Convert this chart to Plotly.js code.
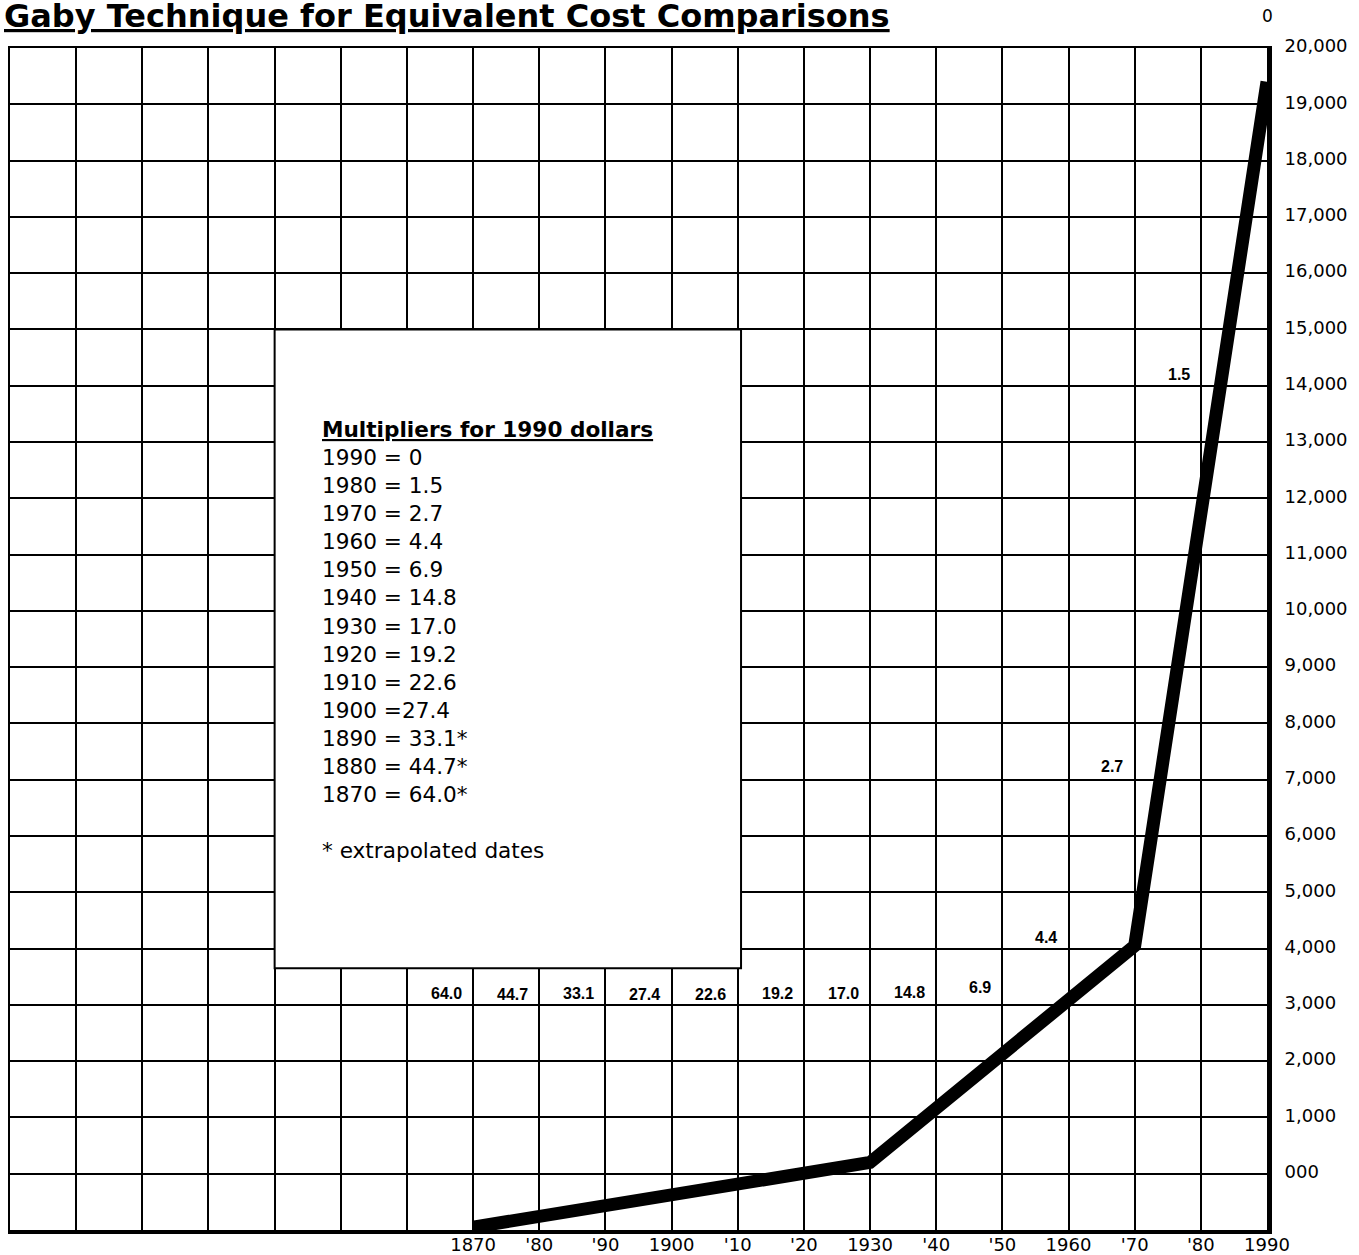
<!DOCTYPE html>
<html><head><meta charset="utf-8">
<script src="https://cdn.plot.ly/plotly-3.0.1.min.js"></script>
<style>html,body{margin:0;padding:0;background:#fff;overflow:hidden}#chart{width:1359px;height:1255px}</style>
</head><body><div id="chart"></div>
<script>
// ---- data ----
const years = [1870, 1930, 1970, 1990];
const values = [-950, 200, 4050, 19400];

const multYears = [1990, 1980, 1970, 1960, 1950, 1940, 1930, 1920, 1910, 1900, 1890, 1880, 1870];
const multValues = ["0", "1.5", "2.7", "4.4", "6.9", "14.8", "17.0", "19.2", "22.6", "27.4", "33.1", "44.7", "64.0"];
const extrapolated = [1890, 1880, 1870];

const xTickVals = [1870, 1880, 1890, 1900, 1910, 1920, 1930, 1940, 1950, 1960, 1970, 1980, 1990];
const xTickText = ["1870", "'80", "'90", "1900", "'10", "'20", "1930", "'40", "'50", "1960", "'70", "'80", "1990"];
const yTickVals = [0, 1000, 2000, 3000, 4000, 5000, 6000, 7000, 8000, 9000, 10000, 11000, 12000, 13000, 14000, 15000, 16000, 17000, 18000, 19000, 20000];
const yTickText = ["000", "1,000", "2,000", "3,000", "4,000", "5,000", "6,000", "7,000", "8,000", "9,000", "10,000", "11,000", "12,000", "13,000", "14,000", "15,000", "16,000", "17,000", "18,000", "19,000", "20,000"];

// ---- layout helpers (positions, not data) ----
const labelYears = [1870, 1880, 1890, 1900, 1910, 1920, 1930, 1940, 1950, 1960, 1970, 1980];
const labelY = [3200, 3180, 3210, 3190, 3190, 3210, 3210, 3220, 3300, 4200, 7230, 14200];
const box = {x0: 1840, x1: 1910.5, y0: 3650, y1: 15000};

const black = '#000';
const labelFont = {family: 'Liberation Sans, Arial, sans-serif', size: 16, color: black, weight: 'bold'};

const annotations = [];
labelYears.forEach((yr, i) => {
  const idx = multYears.indexOf(yr);
  annotations.push({
    x: yr - 1.4, y: labelY[i], xref: 'x', yref: 'y',
    xanchor: 'right', yanchor: 'middle', showarrow: false,
    text: '<b>' + multValues[idx] + '</b>', font: labelFont
  });
});

const boxLines = multYears.map((yr, i) =>
  yr + (yr === 1900 ? ' =' : ' = ') + multValues[i] + (extrapolated.includes(yr) ? '*' : ''));
const boxText = '<b><u>Multipliers for 1990 dollars</u></b><br>' + boxLines.join('<br>') + '<br><br>* extrapolated dates';
annotations.push({
  x: 1846.8, y: 13480, xref: 'x', yref: 'y', xanchor: 'left', yanchor: 'top',
  showarrow: false, align: 'left', text: boxText,
  font: {family: 'DejaVu Sans, sans-serif', size: 21.6, color: black}
});

annotations.push({
  x: -0.0065, y: 1.027, xref: 'paper', yref: 'paper', xanchor: 'left', yanchor: 'middle',
  showarrow: false, text: '<b><u>Gaby Technique for Equivalent Cost Comparisons</u></b>',
  font: {family: 'DejaVu Sans, sans-serif', size: 32, color: black}
});
annotations.push({
  x: 1.0, y: 1.027, xref: 'paper', yref: 'paper', xanchor: 'center', yanchor: 'middle',
  showarrow: false, text: '0',
  font: {family: 'DejaVu Sans, sans-serif', size: 17, color: black}
});

const traces = [
  {x: years, y: values, type: 'scatter', mode: 'lines',
   line: {color: black, width: 13}, hoverinfo: 'skip', cliponaxis: true},
  {x: [1800, 1990], y: [-1000, 20000], xaxis: 'x2', yaxis: 'y2', type: 'scatter', mode: 'markers',
   marker: {opacity: 0}, hoverinfo: 'skip', showlegend: false}
];

const layout = {
  width: 1359, height: 1255,
  margin: {l: 10, r: 92, t: 48, b: 25, pad: 0},
  paper_bgcolor: '#fff', plot_bgcolor: '#fff',
  showlegend: false,
  xaxis: {
    range: [1800, 1990], tickvals: xTickVals, ticktext: xTickText,
    showgrid: true, gridcolor: black, gridwidth: 2,
    minor: {tick0: 1800, dtick: 10, showgrid: true, gridcolor: black, gridwidth: 2, ticks: ''},
    showline: true, linecolor: black, linewidth: 4, ticks: '',
    zeroline: false, ticklabelstandoff: -5,
    tickfont: {family: 'DejaVu Sans, sans-serif', size: 18, color: black},
    fixedrange: true
  },
  yaxis: {
    range: [-1000, 20000], side: 'right', tickvals: yTickVals, ticktext: yTickText,
    showgrid: true, gridcolor: black, gridwidth: 2,
    minor: {tick0: -1000, dtick: 1000, showgrid: true, gridcolor: black, gridwidth: 2, ticks: ''},
    showline: true, linecolor: black, linewidth: 5, ticks: '',
    zeroline: false, ticklabelstandoff: 9, ticklabelshift: -2,
    tickfont: {family: 'DejaVu Sans, sans-serif', size: 18, color: black},
    fixedrange: true
  },
  xaxis2: {overlaying: 'x', side: 'top', range: [1800, 1990], showline: true, linecolor: black, linewidth: 2.5,
    showgrid: false, showticklabels: false, ticks: '', zeroline: false, anchor: 'y2'},
  yaxis2: {overlaying: 'y', side: 'left', range: [-1000, 20000], showline: true, linecolor: black, linewidth: 2.5,
    showgrid: false, showticklabels: false, ticks: '', zeroline: false, anchor: 'x2'},
  shapes: [{type: 'rect', xref: 'x', yref: 'y', x0: box.x0, x1: box.x1, y0: box.y0, y1: box.y1,
    fillcolor: '#fff', line: {color: black, width: 2}, layer: 'above'}],
  annotations: annotations
};

Plotly.newPlot('chart', traces, layout, {staticPlot: true, displayModeBar: false});
</script></body></html>
